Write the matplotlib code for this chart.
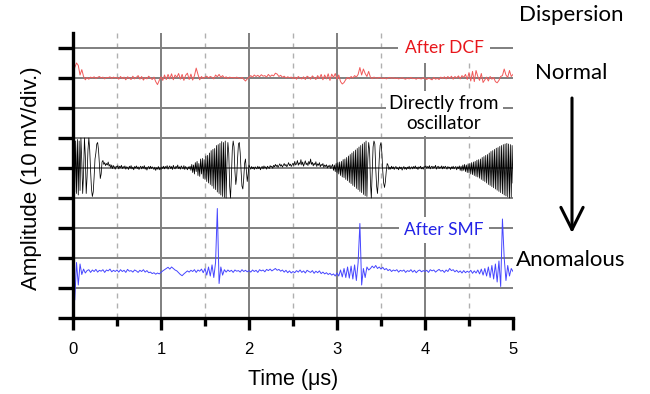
import numpy as np
import matplotlib.pyplot as plt

plt.rcParams["font.family"] = ["Liberation Sans", "DejaVu Sans"]

# time span of the scope traces (us)
T_START, T_END = 0.0, 5.0

# trace deviations from their own baseline, in divisions (10 mV/div)
# red: after DCF, sampled every 0.02 us
red_dcf = [
    0.05, 0.35, 0.50, 0.42, 0.10, 0.28, 0.05, -0.06, 0.02, -0.04, 0.03, 0.00, 0.04, -0.02, 0.02, 0.05, 0.00, 0.03, -0.03, 0.02, 0.01, 0.04, -0.02, 0.03, 0.00,
    0.02, -0.04, 0.05, -0.02, 0.03, -0.06, 0.04, 0.00, -0.05, 0.06, -0.03, 0.02, 0.08, -0.04, 0.05, -0.07, 0.02, -0.03, 0.06, 0.00, -0.05, 0.03, -0.12, -0.22, -0.08,
    0.04, -0.08, 0.10, -0.05, 0.12, -0.03, 0.14, -0.06, 0.10, 0.02, 0.15, -0.04, 0.12, -0.08, 0.09, 0.16, -0.05, 0.13, -0.07, 0.08, 0.33, 0.12, -0.06, 0.05, -0.02,
    0.03, 0.06, 0.00, 0.05, 0.02, -0.03, 0.10, 0.04, 0.12, 0.02, 0.08, 0.00, 0.04, -0.02, 0.03, 0.01, 0.02, -0.01, 0.03, 0.00, -0.02, 0.02, -0.04, -0.10, -0.03,
    0.02, 0.08, 0.03, 0.10, 0.05, 0.09, 0.04, 0.11, 0.06, 0.08, 0.03, 0.12, 0.05, 0.10, 0.07, 0.16, 0.13, 0.05, 0.09, 0.02, 0.06, 0.00, 0.04, 0.01, 0.03,
    -0.02, 0.03, -0.04, 0.05, 0.00, -0.03, 0.04, -0.05, 0.06, 0.02, -0.04, 0.07, 0.01, -0.05, 0.08, -0.02, 0.12, -0.06, 0.10, -0.03, 0.14, -0.08, 0.13, 0.02, 0.15,
    -0.04, 0.10, -0.12, -0.20, -0.15, -0.05, 0.02, -0.03, 0.05, 0.00, 0.08, 0.03, 0.12, 0.35, 0.10, 0.30, 0.15, 0.05, 0.22, 0.02, -0.02, 0.03, 0.00, -0.01, 0.02,
    0.00, -0.02, 0.01, -0.03, 0.00, 0.02, -0.01, 0.01, -0.02, 0.00, -0.03, -0.01, 0.01, -0.02, -0.04, 0.00, -0.03, 0.02, -0.02, -0.01, -0.04, 0.00, -0.02, -0.03, 0.01,
    -0.02, -0.05, 0.00, -0.03, -0.06, 0.02, -0.04, -0.01, -0.05, 0.03, -0.02, 0.04, -0.03, 0.05, -0.02, 0.06, -0.04, 0.05, 0.00, 0.07, -0.03, 0.08, 0.02, 0.12, -0.05,
    0.18, -0.10, 0.22, -0.12, 0.25, 0.05, -0.08, 0.15, -0.15, -0.06, 0.03, -0.10, 0.05, -0.04, 0.02, -0.12, -0.16, -0.08, 0.05, 0.08, 0.30, 0.10, 0.02, 0.25, 0.05, 0.12,
]

# black: directly from oscillator, sampled every 0.01 us
black_osc = [
    0.0, 0.85, -0.8, 0.9, -0.85, 0.95, -0.9, 0.9, -0.75, 1.0, 0.2, -0.85, -0.2, 1.0, 0.4, -0.85, -0.3, 0.6, 1.0, 0.6,
    -0.1, -0.7, -0.95, -0.8, -0.3, 0.3, 0.5, 0.8, 0.85, 0.6, 0.1, -0.35, -0.2, 0.2, 0.25, 0.12, 0.18, 0.08, 0.15, 0.1,
    0.2, 0.06, 0.12, 0.0, 0.1, -0.02, 0.08, 0.03, -0.04, 0.06,
    0.02, 0.08, -0.03, 0.06, 0.01, 0.09, -0.02, 0.05, 0.0, 0.07, -0.04, 0.04, 0.02, -0.05, 0.06, -0.01, 0.08, -0.03, 0.03, -0.06,
    0.05, 0.0, 0.07, -0.02, 0.04, -0.05, 0.02, 0.06, -0.03, 0.05, -0.01, 0.08, -0.04, 0.03, -0.07, 0.02, 0.05, -0.03, 0.06, -0.02,
    0.04, 0.0, -0.05, 0.03, -0.08, 0.01, -0.04, 0.05, -0.06, 0.02,
    -0.05, 0.04, -0.02, 0.06, -0.03, 0.05, 0.0, 0.08, -0.04, 0.03, 0.07, -0.02, 0.05, -0.05, 0.09, 0.01, -0.03, 0.06, 0.0, 0.1,
    -0.02, 0.04, -0.04, 0.07, 0.02, -0.03, 0.08, -0.05, 0.05, 0.0, -0.06, 0.04, -0.03, 0.06, -0.08,
    0.12, -0.15, 0.1, -0.2, 0.18, -0.12, 0.22, -0.25, 0.15, -0.28, 0.3, -0.2, 0.32, -0.35, 0.28,
    -0.38, 0.4, -0.45, 0.42, -0.5, 0.5, -0.55, 0.58, -0.6, 0.62, -0.68, 0.65, -0.72, 0.75, -0.8, 0.78, -0.85, 0.82, -0.9, 0.88,
    -0.95, 0.85, -0.98, 0.9, -1.0,
    0.2, 0.85, 0.5, -0.6, -1.0, -0.3, 0.6, 0.9, 0.7, -0.1, -0.55, -0.3, 0.3, 0.8, 0.85, 0.5, -0.1, -0.6, -0.7, -0.35,
    0.15, 0.3, -0.1, -0.45, -0.2,
    0.1, 0.02, -0.04, 0.05, -0.02, 0.03, -0.05, 0.04, 0.0, -0.03, 0.06, -0.02, 0.04, -0.06, 0.02, 0.05, -0.03, 0.07, 0.0, 0.04,
    -0.04, 0.06, 0.02, -0.02, 0.08, 0.03, 0.06, -0.01, 0.09, 0.04, 0.12, 0.05, 0.1, 0.02, 0.08, 0.14, 0.06, 0.11, 0.03, 0.09,
    0.15, 0.07, 0.12, 0.04, 0.1, 0.18, 0.08, 0.13, 0.05, 0.11,
    0.16, 0.08, 0.22, 0.1, 0.14, 0.25, 0.09, 0.18, 0.12, 0.28, 0.1, 0.2, 0.06, 0.15, 0.24, 0.11, 0.17, 0.08, 0.22, 0.13,
    0.3, 0.12, 0.19, 0.07, 0.16, 0.1, 0.21, 0.05, 0.14, 0.09, 0.18, 0.04, 0.12, 0.08, 0.15, 0.02, 0.1, 0.05, 0.11, 0.0,
    0.08, 0.03, 0.1, -0.02, 0.06, 0.12, -0.08, 0.1, -0.12, 0.15,
    -0.15, 0.18, -0.2, 0.2, -0.25, 0.22, -0.3, 0.28, -0.32, 0.3, -0.38, 0.35, -0.42, 0.4, -0.48, 0.45, -0.52, 0.5, -0.58, 0.55,
    -0.62, 0.6, -0.68, 0.65, -0.72, 0.7, -0.78, 0.75, -0.82, 0.8, -0.88, 0.85, -0.92, 0.9, -0.95,
    0.3, 0.85, 0.6, -0.5, -1.0, -0.2, 0.7, 0.9, 0.8, 0.0, -0.6, -0.85, -0.4, 0.3, 0.75,
    0.85, 0.5, -0.1, -0.5, -0.65, -0.45, -0.1, 0.15, 0.1, -0.05,
    0.03, -0.04, 0.06, -0.02, 0.04, -0.05, 0.02, 0.05, -0.03, 0.01, -0.06, 0.04, -0.02, 0.03, -0.07, 0.0, 0.05, -0.04, 0.02, -0.05,
    0.03, -0.02, 0.06, -0.04, 0.01, 0.04, -0.03, 0.05, -0.01, 0.07, -0.02, 0.03, -0.05, 0.04, 0.0, 0.06, -0.03, 0.02, -0.04, 0.05,
    0.02, 0.07, -0.01, 0.05, 0.0, 0.08, -0.03, 0.04, 0.06, -0.02, 0.05, 0.01, 0.09, -0.04, 0.03, 0.06, -0.02, 0.04, 0.0, 0.07,
    -0.03, 0.05, -0.01, 0.06, 0.02, -0.04, 0.05, 0.0, 0.03, -0.05, 0.04, -0.02, 0.06, -0.03, 0.02, 0.05, -0.06, 0.04, -0.02, 0.07,
    -0.08, 0.06, -0.1, 0.1, -0.08, 0.12, -0.12, 0.1, -0.15, 0.14,
    -0.16, 0.15, -0.2, 0.18, -0.22, 0.2, -0.25, 0.22, -0.28, 0.26, -0.3, 0.28, -0.34, 0.3, -0.38, 0.35, -0.42, 0.38, -0.45, 0.42,
    -0.5, 0.45, -0.55, 0.5, -0.58, 0.55, -0.62, 0.58, -0.66, 0.62, -0.7, 0.66, -0.74, 0.68, -0.78, 0.72, -0.82, 0.75, -0.86, 0.78,
    -0.9, 0.8, -0.93, 0.82, -0.96, 0.8, -1.0, 0.78, -0.97, 0.75, -0.5,
]

# blue: after SMF, sampled every 0.02 us
blue_smf = [
    0.95, -0.95, 0.3, -0.45, 0.25, -0.1, 0.08, -0.05, 0.03, 0.06, -0.03, 0.05, 0.0, 0.07, -0.02, 0.04, 0.01, 0.06, -0.03, 0.05, 0.02, 0.08, -0.01, 0.04, 0.0,
    0.05, -0.02, 0.06, 0.0, 0.04, -0.03, 0.07, 0.01, 0.03, -0.02, 0.05, 0.02, -0.03, 0.04, 0.0, 0.06, -0.02, 0.03, -0.04, -0.02, -0.07, -0.04, -0.09, -0.05, -0.08,
    -0.03, 0.02, 0.06, 0.1, 0.14, 0.08, 0.15, 0.1, 0.05, 0.02, -0.04, -0.1, -0.14, -0.08, -0.03, 0.02, -0.02, 0.04, 0.0, 0.06, -0.03, 0.05, 0.01, 0.08, -0.04,
    0.1, -0.12, 0.15, -0.15, 0.22, -0.2, 0.3, 2.1, -0.4, 0.15, -0.12, 0.06, -0.02, 0.05, 0.0, 0.04, -0.03, 0.05, 0.01, 0.03, -0.02, 0.06, 0.0, 0.04, -0.01,
    0.03, -0.02, 0.05, 0.0, 0.04, -0.03, 0.06, 0.02, 0.05, -0.01, 0.07, 0.03, 0.08, 0.02, 0.06, 0.1, 0.04, 0.07, 0.01, 0.05, -0.02, 0.04, -0.04, 0.02, -0.05,
    0.0, -0.04, 0.03, -0.02, 0.05, -0.03, 0.02, -0.05, 0.04, 0.0, -0.03, 0.03, -0.06, 0.01, -0.04, 0.02, -0.07, -0.02, -0.08, -0.04, -0.1, -0.06, -0.12, -0.08, -0.15,
    -0.05, -0.15, 0.05, -0.18, 0.1, -0.2, 0.15, -0.22, 0.18, -0.25, 0.22, -0.3, 0.3, 1.6, -0.45, 0.1, -0.2, 0.15, 0.05, 0.1, 0.18, 0.12, 0.2, 0.1, 0.15,
    0.08, 0.14, 0.06, 0.1, 0.03, 0.07, 0.0, 0.05, 0.02, 0.06, -0.02, 0.04, 0.01, 0.05, -0.03, 0.03, 0.0, 0.06, -0.02, 0.04, -0.04, 0.02, 0.05, -0.01, 0.03,
    0.0, 0.04, -0.03, 0.06, 0.02, 0.05, -0.02, 0.03, 0.07, 0.01, 0.04, -0.03, 0.05, 0.0, 0.1, 0.03, 0.06, -0.01, 0.04, -0.03, 0.02, -0.05, 0.03, -0.04, 0.01,
    -0.03, 0.04, -0.06, 0.02, -0.05, 0.05, -0.08, 0.08, -0.12, 0.1, -0.15, 0.15, -0.2, 0.2, -0.25, 0.25, -0.35, 0.35, -0.5, 1.75, 0.45, -0.3, 0.2, -0.15, 0.1, 0.0,
]

# baselines of the three traces (divisions)
RED_BASE = 8.0
BLACK_BASE = 5.0
BLUE_BASE = 1.55

x_major = [0, 1, 2, 3, 4, 5]
x_minor = [0.5, 1.5, 2.5, 3.5, 4.5]
y_div = list(range(10))

W, H = 650, 394
fig = plt.figure(figsize=(W / 100, H / 100), dpi=100)
ax = fig.add_axes([73 / W, 1 - 318 / H, 440 / W, 285 / H])

for vals, base, col, lw in [(red_dcf, RED_BASE, "#f05a5a", 0.7),
                            (black_osc, BLACK_BASE, "black", 0.55),
                            (blue_smf, BLUE_BASE, "#4646ff", 0.7)]:
    t = np.linspace(T_START, T_END, len(vals))
    ax.plot(t, base + np.asarray(vals), color=col, lw=lw, zorder=4)

ax.set_xlim(T_START, T_END)
ax.set_ylim(0, 9.5)

# scope grid
for x in x_major[1:-1]:
    ax.axvline(x, color="#7f7f7f", lw=1.4, zorder=1)
for x in x_minor:
    ax.axvline(x, color="#b0b0b0", lw=1.0, ls=(0, (3.6, 3.6)), zorder=1)
for y in y_div[1:]:
    ax.axhline(y, color="#7f7f7f", lw=1.4, zorder=1)

for s in ["top", "right"]:
    ax.spines[s].set_visible(False)
for s in ["left", "bottom"]:
    ax.spines[s].set_linewidth(2.4)
    ax.spines[s].set_zorder(5)

ax.set_xticks(x_major)
ax.set_xticks(x_minor, minor=True)
ax.set_yticks(y_div)
ax.tick_params(axis="x", which="major", direction="out", length=8.5, width=2.4, pad=9, labelsize=12)
ax.tick_params(axis="x", which="minor", direction="out", length=5.5, width=2.4)
ax.tick_params(axis="y", direction="out", length=11, width=2.4, labelleft=False)

ax.set_xlabel("Time (μs)", fontsize=15.5)
ax.xaxis.set_label_coords(0.5, -0.18)
ax.set_ylabel("Amplitude (10 mV/div.)", fontsize=16)
ax.yaxis.set_label_coords(-0.07, 0.49)

lbl = dict(family=["Lato", "DejaVu Sans"], ha="center", va="center", zorder=3)
ax.text(4.216, 9.0, "After DCF", color="#e8161b", fontsize=12.5,
        bbox=dict(boxstyle="square,pad=0.4", fc="white", ec="none"), **lbl)
ax.text(4.216, 6.82, "Directly from\noscillator", color="black", fontsize=13.5, linespacing=1.2,
        bbox=dict(boxstyle="square,pad=0.2", fc="white", ec="none"), **lbl)
ax.text(4.216, 2.93, "After SMF", color="#2323e6", fontsize=12.5,
        bbox=dict(boxstyle="square,pad=0.3", fc="white", ec="none"), **lbl)

side = dict(family=["Lato", "DejaVu Sans"], ha="center", va="center", fontsize=16)
fig.text(571 / W, 1 - 15 / H, "Dispersion", **side)
fig.text(571 / W, 1 - 73 / H, "Normal", **side)
fig.text(571 / W, 1 - 260 / H, "Anomalous", **side)
ax.annotate("", xy=(572 / W, 1 - 233 / H), xytext=(572 / W, 1 - 98 / H),
            xycoords="figure fraction", textcoords="figure fraction",
            arrowprops=dict(arrowstyle="->", lw=2.2, color="black", mutation_scale=40,
                            shrinkA=0, shrinkB=0),
            annotation_clip=False)

fig.savefig("out.png", dpi=100)
